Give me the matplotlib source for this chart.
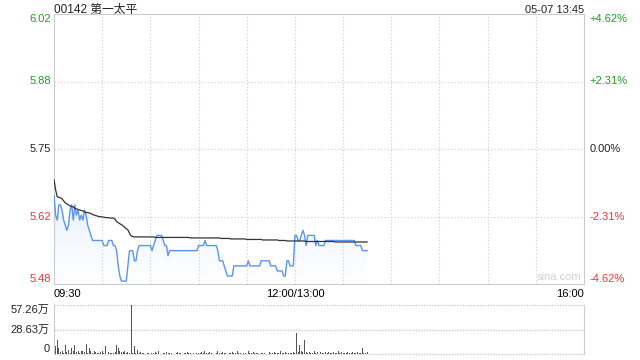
import matplotlib
matplotlib.use("Agg")
import matplotlib.pyplot as plt
import numpy as np
from matplotlib.colors import LinearSegmentedColormap
from matplotlib.transforms import blended_transform_factory

plt.rcParams['font.family'] = ['Liberation Sans', 'Noto Sans CJK SC', 'DejaVu Sans']

# ---- data (one value per trading minute, 09:30 -> 13:45) ----
title = "00142 第一太平"
stamp = "05-07 13:45"
prev_close = 5.75
pct_range = 0.0462

price = [
    5.66, 5.62, 5.61, 5.64, 5.64, 5.63, 5.61, 5.60, 5.59, 5.60,
    5.63, 5.64, 5.61, 5.64, 5.62, 5.63, 5.61, 5.62, 5.61, 5.63,
    5.62, 5.60, 5.59, 5.58, 5.57, 5.57, 5.57, 5.57, 5.57, 5.57,
    5.57, 5.56, 5.56, 5.56, 5.57, 5.57, 5.57, 5.56, 5.56, 5.55,
    5.52, 5.50, 5.49, 5.49, 5.49, 5.49, 5.52, 5.55, 5.55, 5.55,
    5.53, 5.53, 5.55, 5.56, 5.56, 5.56, 5.56, 5.56, 5.56, 5.56,
    5.56, 5.55, 5.56, 5.57, 5.58, 5.58, 5.58, 5.58, 5.57, 5.56,
    5.56, 5.54, 5.55, 5.55, 5.55, 5.55, 5.55, 5.55, 5.55, 5.55,
    5.55, 5.55, 5.55, 5.55, 5.55, 5.55, 5.55, 5.55, 5.55, 5.55,
    5.56, 5.56, 5.56, 5.56, 5.57, 5.56, 5.56, 5.56, 5.56, 5.56,
    5.56, 5.56, 5.55, 5.53, 5.53, 5.53, 5.52, 5.51, 5.50, 5.50,
    5.50, 5.50, 5.52, 5.52, 5.52, 5.52, 5.52, 5.52, 5.52, 5.52,
    5.52, 5.53, 5.52, 5.52, 5.52, 5.52, 5.52, 5.52, 5.52, 5.53,
    5.53, 5.53, 5.53, 5.53, 5.53, 5.52, 5.52, 5.52, 5.52, 5.51,
    5.51, 5.51, 5.51, 5.50, 5.50, 5.53, 5.53, 5.52, 5.52, 5.52,
    5.58, 5.58, 5.57, 5.57, 5.58, 5.59, 5.58, 5.56, 5.58, 5.58,
    5.58, 5.58, 5.58, 5.56, 5.57, 5.56, 5.56, 5.56, 5.56, 5.57,
    5.57, 5.57, 5.57, 5.57, 5.57, 5.57, 5.57, 5.57, 5.57, 5.57,
    5.57, 5.57, 5.57, 5.57, 5.57, 5.57, 5.57, 5.57, 5.56, 5.56,
    5.56, 5.56, 5.55, 5.55, 5.55, 5.55,
]

avg_price = [
    5.690, 5.670, 5.656, 5.655, 5.654, 5.652, 5.648, 5.644, 5.642, 5.640,
    5.638, 5.637, 5.636, 5.633, 5.632, 5.631, 5.630, 5.629, 5.628, 5.626,
    5.625, 5.625, 5.624, 5.623, 5.621, 5.620, 5.619, 5.618, 5.617, 5.617,
    5.616, 5.616, 5.615, 5.615, 5.615, 5.614, 5.614, 5.614, 5.612, 5.607,
    5.605, 5.603, 5.601, 5.599, 5.596, 5.593, 5.591, 5.584, 5.579, 5.578,
    5.577, 5.577, 5.577, 5.577, 5.577, 5.577, 5.577, 5.577, 5.577, 5.577,
    5.577, 5.577, 5.577, 5.576, 5.576, 5.576, 5.576, 5.576, 5.576, 5.576,
    5.576, 5.576, 5.576, 5.576, 5.576, 5.576, 5.576, 5.576, 5.576, 5.576,
    5.576, 5.576, 5.576, 5.576, 5.576, 5.575, 5.575, 5.575, 5.575, 5.575,
    5.575, 5.575, 5.575, 5.575, 5.575, 5.575, 5.575, 5.575, 5.575, 5.575,
    5.575, 5.575, 5.575, 5.575, 5.574, 5.574, 5.574, 5.574, 5.574, 5.574,
    5.573, 5.573, 5.573, 5.573, 5.573, 5.573, 5.573, 5.573, 5.573, 5.573,
    5.572, 5.572, 5.572, 5.572, 5.572, 5.572, 5.572, 5.572, 5.572, 5.572,
    5.571, 5.571, 5.571, 5.571, 5.571, 5.571, 5.571, 5.571, 5.571, 5.571,
    5.570, 5.570, 5.570, 5.570, 5.570, 5.569, 5.569, 5.569, 5.569, 5.569,
    5.569, 5.569, 5.569, 5.569, 5.569, 5.569, 5.569, 5.568, 5.568, 5.568,
    5.568, 5.568, 5.568, 5.568, 5.568, 5.568, 5.568, 5.568, 5.568, 5.568,
    5.568, 5.568, 5.568, 5.568, 5.568, 5.567, 5.567, 5.567, 5.567, 5.567,
    5.567, 5.567, 5.567, 5.567, 5.567, 5.567, 5.567, 5.567, 5.567, 5.567,
    5.567, 5.567, 5.567, 5.567, 5.567, 5.567,
]

# volume in 万 shares
volume = [
    8, 9, 16, 7, 2, 3, 1, 10, 2, 5,
    1, 7, 4, 10, 2, 3, 1, 3, 4, 2,
    12, 1, 7, 4, 1, 3, 2, 1, 1, 2,
    4, 1, 9, 1, 2, 1, 1, 1, 2, 10,
    7, 4, 2, 2, 3, 1, 2, 1, 57.26, 1,
    9, 1, 5, 1, 2, 1, 1, 0.5, 1, 1,
    0.5, 1, 1, 2, 1, 3, 1, 0.5, 1, 1,
    2, 1, 1, 1, 0.5, 0.5, 1, 2, 1, 1,
    0.5, 1, 1, 2, 1, 1, 0.5, 1, 0.5, 1,
    1, 1, 2, 1, 4, 1, 1, 2, 1, 1,
    0.5, 1, 3, 1, 1, 2, 1, 1, 0.5, 1,
    1, 2, 1, 1, 3, 1, 1, 0.5, 1, 1,
    0.5, 3, 1, 1, 2, 1, 1, 1, 0.5, 1,
    1, 1, 1, 0.5, 2, 1, 1, 2, 1, 1,
    1, 3, 1, 1, 2, 1, 1, 1, 1, 2,
    1, 25, 2, 10, 3, 2, 16, 2, 1, 2,
    1, 1, 3, 1, 2, 1, 2, 1, 1, 2,
    1, 2, 1, 1, 2, 1, 1, 3, 1, 2,
    1, 1, 1, 2, 1, 1, 2, 1, 1, 2,
    1, 1, 7, 1, 1, 2,
]

left_labels = ["6.02", "5.88", "5.75", "5.62", "5.48"]
right_labels = ["+4.62%", "+2.31%", "0.00%", "-2.31%", "-4.62%"]
label_colors = ["#1f9e1f", "#1f9e1f", "#222222", "#ee3333", "#ee3333"]
vol_labels = ["57.26万", "28.63万", "0"]
x_labels = ["09:30", "12:00/13:00", "16:00"]

TOTAL_MIN = 330
vol_max = 57.26
GRID = "#cccccc"

fig = plt.figure(figsize=(6.4, 3.6), dpi=100)
ax = fig.add_axes([54 / 640, 76 / 360, 530 / 640, 270 / 360])
axv = fig.add_axes([54 / 640, 6 / 360, 530 / 640, 49 / 360])

minutes = np.arange(len(price))
lo = prev_close * (1 - pct_range)
hi = prev_close * (1 + pct_range)
levels = np.linspace(hi, lo, 5)

ax.set_xlim(0, TOTAL_MIN)
ax.set_ylim(lo, hi)
for x in range(30, TOTAL_MIN, 30):
    ax.axvline(x, color=GRID, lw=0.8, ls=(0, (1, 2)))
for lv in levels[1:-1]:
    ax.axhline(lv, color=GRID, lw=0.8, ls=(0, (1, 2)))

# light gradient under the price line
poly = ax.fill_between(minutes, price, lo, color="none")
cmap = LinearSegmentedColormap.from_list("g", ["#ffffff", "#e9f1fd"])
grad = np.linspace(0, 1, 100).reshape(-1, 1)
im = ax.imshow(grad, extent=[0, len(price) - 1, lo, max(price)], origin="lower",
               aspect="auto", cmap=cmap, zorder=1)
im.set_clip_path(poly.get_paths()[0], transform=ax.transData)

ax.plot(minutes, price, color="#5b95ee", lw=1.0, zorder=3)
ax.plot(minutes, avg_price, color="#333333", lw=0.9, zorder=4)

ax.set_xticks([])
ax.set_yticks([])
for s in ax.spines.values():
    s.set_color(GRID)
    s.set_linewidth(0.8)

tl = blended_transform_factory(ax.transAxes, ax.transData)
vas = ["top", "center", "center", "center", "bottom"]
for lv, l, r, c, va in zip(levels, left_labels, right_labels, label_colors, vas):
    ax.text(-0.006, lv, l, transform=tl, ha="right", va=va, fontsize=8, color=c)
    ax.text(1.011, lv, r, transform=tl, ha="left", va=va, fontsize=8, color=c)

ax.text(0.995, 0.008, "sina.com", transform=ax.transAxes, ha="right", va="bottom",
        fontsize=8, color="#d0d0d0")

# time labels
ax.text(0, -0.02, x_labels[0], transform=ax.get_xaxis_transform(), ha="left", va="top", fontsize=8)
ax.text(150, -0.02, x_labels[1], transform=ax.get_xaxis_transform(), ha="center", va="top", fontsize=8)
ax.text(TOTAL_MIN, -0.02, x_labels[2], transform=ax.get_xaxis_transform(), ha="right", va="top", fontsize=8)

fig.text(54 / 640, 1 - 10 / 360, title, ha="left", va="center", fontsize=8.5, color="#222222")
fig.text(584 / 640, 1 - 10 / 360, stamp, ha="right", va="center", fontsize=8, color="#222222")

# volume panel
axv.bar(minutes, volume, width=0.6, color="#555555", linewidth=0)
axv.set_xlim(0, TOTAL_MIN)
axv.set_ylim(0, vol_max)
for lv in [0, vol_max / 2, vol_max]:
    axv.axhline(lv, color=GRID, lw=1.0, ls=(0, (1, 1)), zorder=0, clip_on=False)
axv.set_xticks([])
axv.set_yticks([])
for k in ["top", "bottom"]:
    axv.spines[k].set_visible(False)
for k in ["left", "right"]:
    axv.spines[k].set_color(GRID)
    axv.spines[k].set_linewidth(0.8)

tv = blended_transform_factory(axv.transAxes, axv.transData)
for lv, t, va in zip([vol_max, vol_max / 2, 0], vol_labels, ["top", "center", "bottom"]):
    axv.text(-0.008, lv, t, transform=tv, ha="right", va=va, fontsize=8, color="#222222")

fig.savefig("out.png", dpi=100)
